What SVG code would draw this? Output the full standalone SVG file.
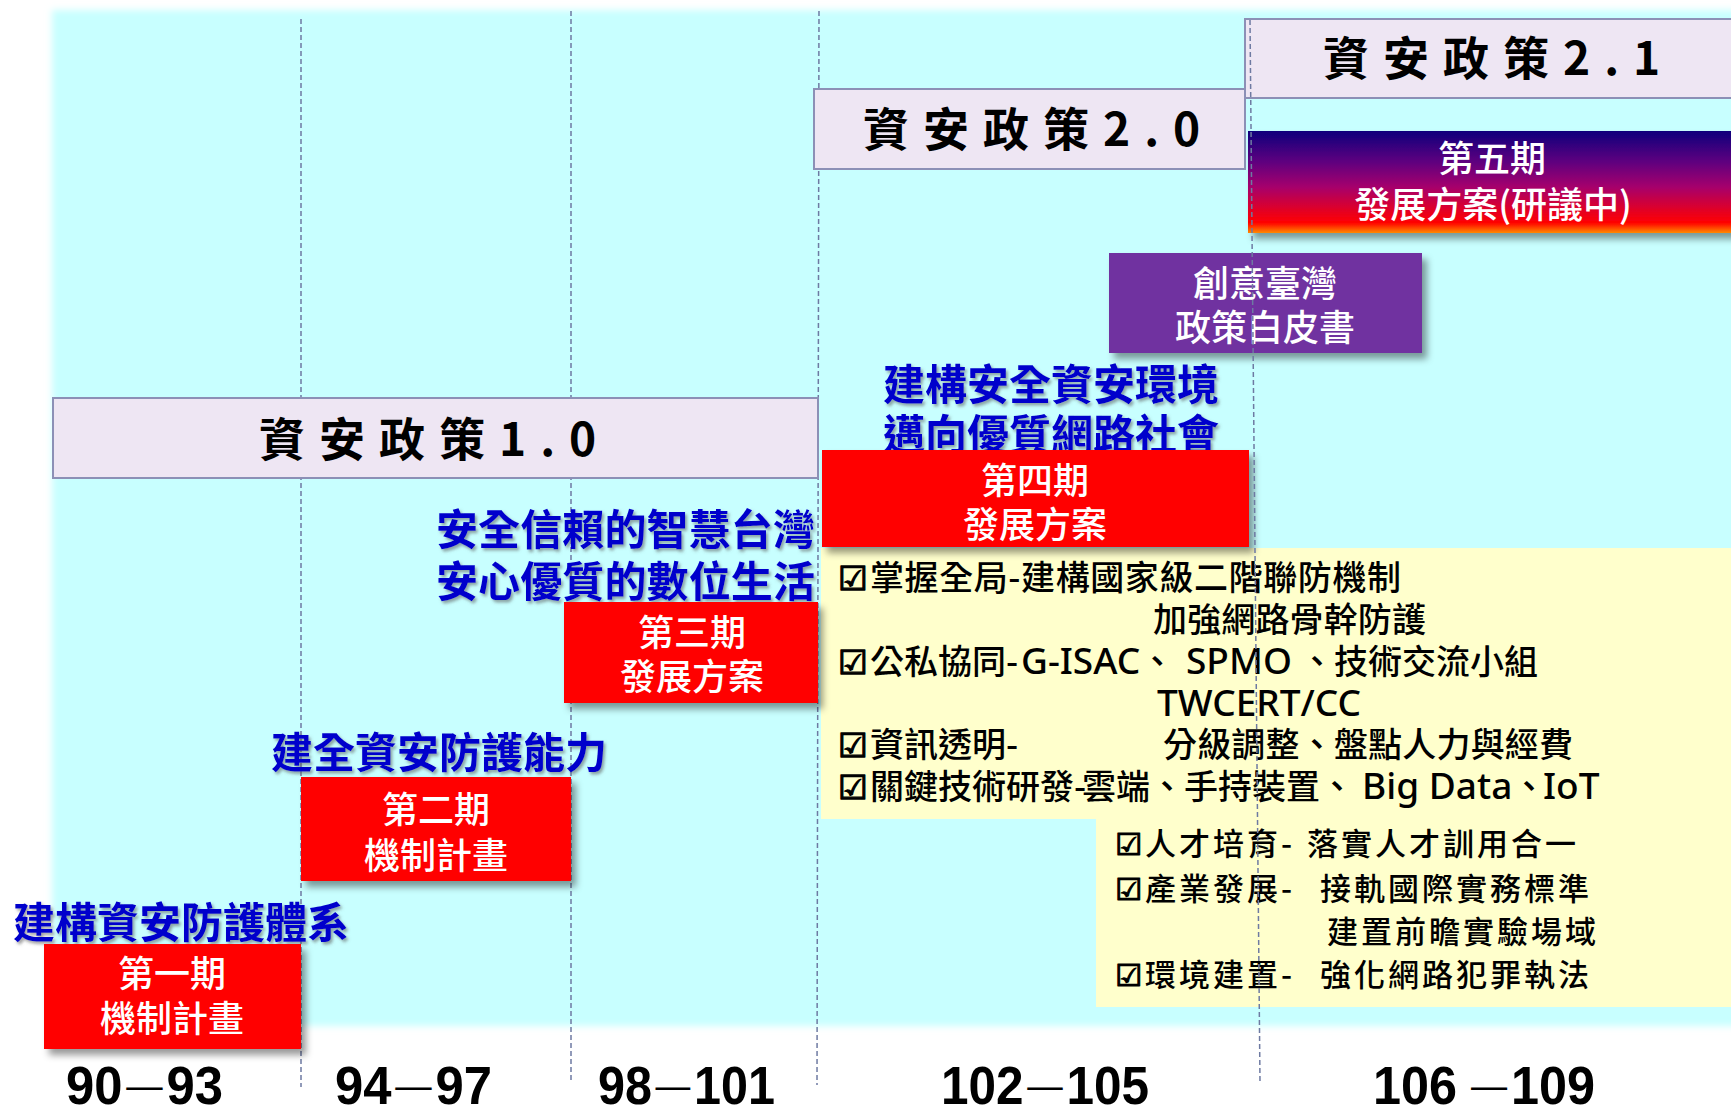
<svg xmlns="http://www.w3.org/2000/svg" width="1731" height="1107" viewBox="0 0 1731 1107">
<defs>
<style>
.pol{fill:#EEE6F3;stroke:#8C90B6;stroke-width:2}
.poltx{font-family:"Noto Sans CJK TC","Noto Sans",sans-serif;font-weight:700;font-size:46px;fill:#000;letter-spacing:14px}
.blue{font-family:"Noto Sans CJK TC",sans-serif;font-weight:700;font-size:42px;fill:#0000CC;filter:url(#tsh)}
.red{fill:#FF0000}
.wt{font-family:"Noto Sans CJK TC",sans-serif;font-weight:500;font-size:36px;fill:#fff;text-anchor:middle}
.yt{font-family:"Noto Sans CJK TC",sans-serif;font-weight:500;font-size:34px;fill:#000}
.ys{font-family:"Noto Sans CJK TC",sans-serif;font-weight:500;font-size:31px;fill:#000;letter-spacing:3px}
.lat{font-family:"Noto Sans","Noto Sans CJK TC",sans-serif;font-size:37px}
.ck{font-family:"DejaVu Sans","Noto Sans CJK TC",sans-serif;font-weight:700;font-size:33px;fill:#000;stroke:#000;stroke-width:1.3}
.cks{font-family:"DejaVu Sans","Noto Sans CJK TC",sans-serif;font-weight:700;font-size:30px;fill:#000;stroke:#000;stroke-width:1.2}
.yr{font-family:"Liberation Sans",Arial,sans-serif;font-weight:700;font-size:53px;fill:#000}
.ds{font-size:38px;font-weight:400}
.dl{stroke:#6E7AA2;stroke-width:1.5;stroke-dasharray:5 3;fill:none}
</style>
<filter id="soft" x="-5%" y="-5%" width="110%" height="110%"><feGaussianBlur stdDeviation="3.5"/></filter>
<filter id="sh" x="-10%" y="-10%" width="125%" height="130%"><feDropShadow dx="5" dy="6" stdDeviation="3.5" flood-color="#000" flood-opacity="0.4"/></filter>
<filter id="tsh" x="-5%" y="-10%" width="110%" height="130%"><feDropShadow dx="2" dy="2.5" stdDeviation="1.5" flood-color="#555" flood-opacity="0.55"/></filter>
<linearGradient id="g5" x1="0" y1="0" x2="0" y2="1">
<stop offset="0" stop-color="#0E007C"/>
<stop offset="0.3" stop-color="#5E007F"/>
<stop offset="0.55" stop-color="#A6006C"/>
<stop offset="0.8" stop-color="#E8001E"/>
<stop offset="0.9" stop-color="#FF0000"/>
<stop offset="1" stop-color="#FF8A00"/>
</linearGradient>
</defs>
<rect width="1731" height="1107" fill="#fff"/>
<rect id="bg" x="52" y="10" width="1700" height="1016" fill="#C8FFFF" filter="url(#soft)"/>
<polygon id="yellow" points="821,548 1731,548 1731,1007 1096,1007 1096,819 821,819" fill="#FFFFCC"/>

<g id="dividers">
<line class="dl" x1="301" y1="19" x2="301" y2="1087"/>
<line class="dl" x1="571" y1="11" x2="571" y2="1080"/>
<line class="dl" x1="819" y1="11" x2="817" y2="1085"/>
</g>

<g id="policy10"><rect class="pol" x="53" y="398" width="765" height="80"/><text class="poltx" x="259" y="456">資安政策1.0</text></g>
<g id="policy20"><rect class="pol" x="814" y="89" width="431" height="80"/><text class="poltx" x="863" y="146">資安政策2.0</text></g>
<g id="policy21"><rect class="pol" x="1245" y="19" width="500" height="79"/><text class="poltx" x="1323" y="75">資安政策2.1</text></g>

<g id="labels">
<text class="blue" x="13" y="938" textLength="336">建構資安防護體系</text>
<text class="blue" x="271" y="768" textLength="336">建全資安防護能力</text>
<text class="blue" x="436" y="545" textLength="379">安全信賴的智慧台灣</text>
<text class="blue" x="436" y="597" textLength="379">安心優質的數位生活</text>
<text class="blue" x="883" y="400" textLength="336">建構安全資安環境</text>
<text class="blue" x="883" y="450" textLength="336">邁向優質網路社會</text>
</g>

<g id="phase1"><rect class="red" x="44" y="944" width="257" height="105" filter="url(#sh)"/><text class="wt" x="172" y="987">第一期</text><text class="wt" x="172" y="1032">機制計畫</text></g>
<g id="phase2"><rect class="red" x="301" y="777" width="270" height="104" filter="url(#sh)"/><text class="wt" x="436" y="823">第二期</text><text class="wt" x="436" y="869">機制計畫</text></g>
<g id="phase3"><rect class="red" x="564" y="602" width="254" height="101" filter="url(#sh)"/><text class="wt" x="692" y="646">第三期</text><text class="wt" x="692" y="690">發展方案</text></g>
<g id="phase4"><rect class="red" x="822" y="450" width="427" height="97" filter="url(#sh)"/><text class="wt" x="1035" y="494">第四期</text><text class="wt" x="1035" y="538">發展方案</text></g>
<g id="phase5"><rect x="1248" y="131" width="500" height="102" fill="url(#g5)" filter="url(#sh)"/><text class="wt" x="1492" y="172">第五期</text><text class="wt" x="1493" y="218">發展方案(研議中)</text></g>
<g id="whitepaper"><rect x="1109" y="253" width="313" height="100" fill="#7030A0" filter="url(#sh)"/><text class="wt" x="1265" y="297">創意臺灣</text><text class="wt" x="1265" y="341">政策白皮書</text></g>

<g id="measures">
<text class="ck" x="838" y="590">☑</text>
<text class="yt" x="870" y="590" textLength="531">掌握全局-建構國家級二階聯防機制</text>
<text class="yt" x="1153" y="632" textLength="273">加強網路骨幹防護</text>
<text class="ck" x="838" y="674">☑</text>
<text class="yt" x="870" y="674">公私協同-<tspan class="lat" x="1021">G-ISAC</tspan>、</text>
<text class="yt" x="1186" y="674"><tspan class="lat">SPMO</tspan></text>
<text class="yt" x="1300" y="674">、技術交流小組</text>
<text class="yt" x="1157" y="716"><tspan class="lat">TWCERT/CC</tspan></text>
<text class="ck" x="838" y="757">☑</text>
<text class="yt" x="870" y="757">資訊透明-</text>
<text class="yt" x="1163" y="757" textLength="410">分級調整、盤點人力與經費</text>
<text class="ck" x="838" y="799">☑</text>
<text class="yt" x="870" y="799">關鍵技術研發-</text>
<text class="yt" x="1082" y="799">雲端、手持裝置、</text>
<text class="yt" x="1362" y="799"><tspan class="lat">Big Data</tspan></text>
<text class="yt" x="1512" y="799">、</text>
<text class="yt" x="1543" y="799"><tspan class="lat">IoT</tspan></text>
<text class="cks" x="1115" y="855">☑</text>
<text class="ys" x="1145" y="855">人才培育-</text>
<text class="ys" x="1307" y="855">落實人才訓用合一</text>
<text class="cks" x="1115" y="900">☑</text>
<text class="ys" x="1145" y="900">產業發展-</text>
<text class="ys" x="1320" y="900">接軌國際實務標準</text>
<text class="ys" x="1327" y="943">建置前瞻實驗場域</text>
<text class="cks" x="1115" y="986">☑</text>
<text class="ys" x="1145" y="986">環境建置-</text>
<text class="ys" x="1320" y="986">強化網路犯罪執法</text>
</g>

<g id="divider4"><line class="dl" x1="1250" y1="20" x2="1260" y2="1083"/></g>

<g id="years">
<text class="yr" x="66" y="1104" textLength="157" lengthAdjust="spacingAndGlyphs">90<tspan class="ds" dx="4" y="1099">—</tspan><tspan dx="4" y="1104">93</tspan></text>
<text class="yr" x="335" y="1104" textLength="157" lengthAdjust="spacingAndGlyphs">94<tspan class="ds" dx="4" y="1099">—</tspan><tspan dx="4" y="1104">97</tspan></text>
<text class="yr" x="598" y="1104" textLength="177" lengthAdjust="spacingAndGlyphs">98<tspan class="ds" dx="4" y="1099">—</tspan><tspan dx="4" y="1104">101</tspan></text>
<text class="yr" x="941" y="1104" textLength="208" lengthAdjust="spacingAndGlyphs">102<tspan class="ds" dx="4" y="1099">—</tspan><tspan dx="4" y="1104">105</tspan></text>
<text class="yr" x="1373" y="1104" textLength="222" lengthAdjust="spacingAndGlyphs">106 <tspan class="ds" y="1099">—</tspan><tspan dx="4" y="1104">109</tspan></text>
</g>
</svg>
